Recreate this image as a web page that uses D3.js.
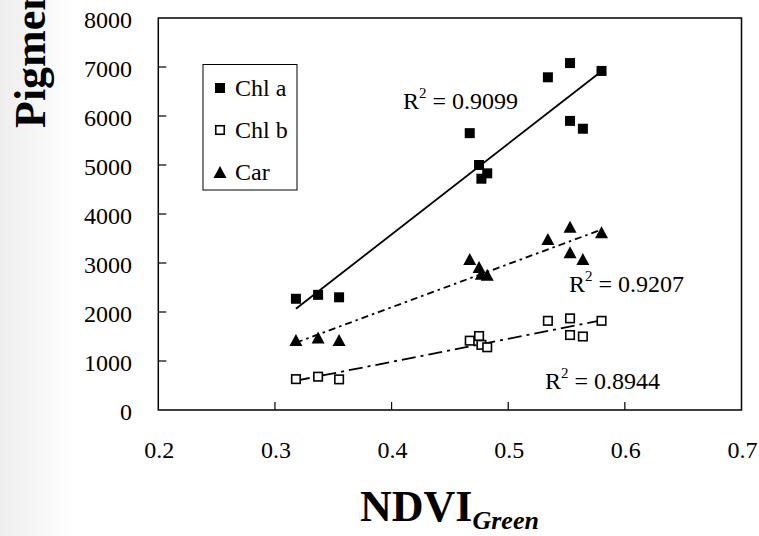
<!DOCTYPE html>
<html>
<head>
<meta charset="utf-8">
<script src="https://cdn.jsdelivr.net/npm/d3@7"></script>
<style>
  html, body { margin: 0; padding: 0; background: #fff; }
  svg { display: block; }
  text { font-family: "Liberation Serif", "Times New Roman", serif; fill: #000; }
</style>
</head>
<body>
<svg id="chart" width="759" height="536"></svg>
<script>
// NDVI(Green) of each sample
const ndvi = [0.318, 0.337, 0.355, 0.467, 0.475, 0.477, 0.482, 0.534, 0.553, 0.553, 0.564, 0.580];
// pigment contents per sample
const chlA = [2270, 2350, 2300, 5650, 5000, 4720, 4830, 6790, 7080, 5900, 5740, 6920];
const chlB = [630, 680, 625, 1415, 1510, 1330, 1280, 1820, 1870, 1530, 1500, 1820];
const car  = [1430, 1480, 1430, 3080, 2920, 2780, 2760, 3490, 3740, 3220, 3080, 3630];
// legend names and the fit statistic of each series
const seriesNames = ["Chl a", "Chl b", "Car"];
const rSquared = ["0.9099", "0.8944", "0.9207"];
// axis ticks
const xTicks = [0.2, 0.3, 0.4, 0.5, 0.6, 0.7];
const yTicks = [0, 1000, 2000, 3000, 4000, 5000, 6000, 7000, 8000];

const svg = d3.select("#chart");

// faint grey shade on the left edge of the slide
const defs = svg.append("defs");
const grad = defs.append("linearGradient").attr("id", "edge").attr("x1", 0).attr("x2", 1).attr("y1", 0).attr("y2", 0);
grad.append("stop").attr("offset", 0).attr("stop-color", "#eeeeee");
grad.append("stop").attr("offset", 0.6).attr("stop-color", "#f8f8f8");
grad.append("stop").attr("offset", 1).attr("stop-color", "#ffffff");
svg.append("rect").attr("x", 0).attr("y", 0).attr("width", 75).attr("height", 536).attr("fill", "url(#edge)");

const plot = { left: 158.3, right: 741.5, top: 18, bottom: 410 };
const x = d3.scaleLinear().domain([0.2, 0.7]).range([plot.left, plot.right]);
const y = d3.scaleLinear().domain([0, 8000]).range([plot.bottom, plot.top]);

// plot frame
svg.append("rect")
  .attr("x", plot.left).attr("y", plot.top)
  .attr("width", plot.right - plot.left).attr("height", plot.bottom - plot.top)
  .attr("fill", "#fff").attr("stroke", "#000").attr("stroke-width", 1.5);

// inward tick marks (interior values only)
const tickLen = 8;
svg.append("g").selectAll("line").data(yTicks.slice(1, -1)).join("line")
  .attr("x1", plot.left).attr("x2", plot.left + tickLen)
  .attr("y1", d => y(d)).attr("y2", d => y(d))
  .attr("stroke", "#000").attr("stroke-width", 1.2);
svg.append("g").selectAll("line").data(xTicks.slice(1, -1)).join("line")
  .attr("x1", d => x(d)).attr("x2", d => x(d))
  .attr("y1", plot.bottom).attr("y2", plot.bottom - tickLen)
  .attr("stroke", "#000").attr("stroke-width", 1.2);

// tick labels
svg.append("g").selectAll("text").data(yTicks).join("text")
  .attr("x", 132).attr("y", d => y(d) + 10)
  .attr("text-anchor", "end").attr("font-size", 24)
  .text(d => d);
svg.append("g").selectAll("text").data(xTicks).join("text")
  .attr("x", d => x(d) + 1).attr("y", 458)
  .attr("text-anchor", "middle").attr("font-size", 24)
  .text(d => d3.format(".1f")(d));

// axis titles
const xt = svg.append("text").attr("x", 360).attr("y", 521).attr("font-weight", "bold").attr("font-size", 44);
xt.append("tspan").text("NDVI");
xt.append("tspan").attr("font-size", 26).attr("font-style", "italic").attr("dy", 8).text("Green");

svg.append("text")
  .attr("transform", "translate(45,128) rotate(-90)")
  .attr("font-weight", "bold").attr("font-size", 44)
  .text("Pigment content");

// least-squares fit of each series, drawn over the sampled NDVI range
function fit(xs, ys) {
  const mx = d3.mean(xs), my = d3.mean(ys);
  let sxy = 0, sxx = 0;
  xs.forEach((v, i) => { sxy += (v - mx) * (ys[i] - my); sxx += (v - mx) * (v - mx); });
  const b = sxy / sxx, a = my - b * mx;
  const [x0, x1] = d3.extent(xs);
  return [[x0, a + b * x0], [x1, a + b * x1]];
}
const line = d3.line().x(d => x(d[0])).y(d => y(d[1]));

const series = [
  { name: seriesNames[0], values: chlA, marker: "filled", dash: null },
  { name: seriesNames[1], values: chlB, marker: "open", dash: "14,5,3,5" },
  { name: seriesNames[2], values: car, marker: "triangle", dash: "7,4,2.5,4" }
];

series.forEach(s => {
  svg.append("path")
    .attr("d", line(fit(ndvi, s.values)))
    .attr("fill", "none").attr("stroke", "#000").attr("stroke-width", 1.8)
    .attr("stroke-dasharray", s.dash);
});

const sq = 10;
function drawMarker(g, kind, cx, cy) {
  if (kind === "triangle") {
    const w = 13, h = 12;
    g.append("path")
      .attr("d", `M${cx},${cy - h / 2}L${cx + w / 2},${cy + h / 2}L${cx - w / 2},${cy + h / 2}Z`)
      .attr("fill", "#000");
  } else if (kind === "filled") {
    g.append("rect").attr("x", cx - sq / 2).attr("y", cy - sq / 2).attr("width", sq).attr("height", sq).attr("fill", "#000");
  } else {
    g.append("rect").attr("x", cx - sq / 2 + 0.75).attr("y", cy - sq / 2 + 0.75)
      .attr("width", sq - 1.5).attr("height", sq - 1.5)
      .attr("fill", "#fff").attr("stroke", "#000").attr("stroke-width", 1.6);
  }
}

series.forEach(s => {
  const g = svg.append("g");
  ndvi.forEach((v, i) => drawMarker(g, s.marker, x(v), y(s.values[i])));
});

// R² annotations
const rLabelPos = [[403, 109], [545, 389], [569, 292]];
rSquared.forEach((r, i) => {
  const t = svg.append("text").attr("x", rLabelPos[i][0]).attr("y", rLabelPos[i][1]).attr("font-size", 24);
  t.append("tspan").text("R");
  t.append("tspan").attr("font-size", 15).attr("dy", -11).text("2");
  t.append("tspan").attr("dy", 11).text(" = " + r);
});

// legend
const lg = svg.append("g");
lg.append("rect").attr("x", 203).attr("y", 64.5).attr("width", 94).attr("height", 125.5)
  .attr("fill", "#fff").attr("stroke", "#000").attr("stroke-width", 1);
const legendRows = [88, 130, 172];
series.forEach((s, i) => {
  drawMarker(lg, s.marker, 220, legendRows[i]);
  lg.append("text").attr("x", 235).attr("y", legendRows[i] + 8).attr("font-size", 24).text(s.name);
});
</script>
</body>
</html>
